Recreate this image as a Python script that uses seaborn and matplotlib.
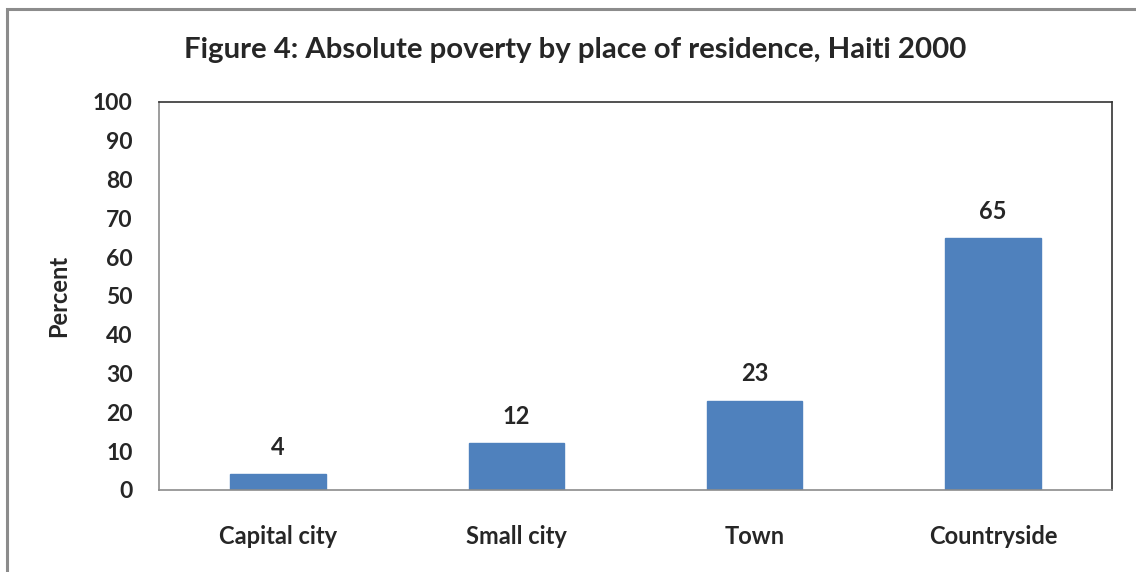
import matplotlib
matplotlib.use("Agg")
import matplotlib.pyplot as plt
import seaborn as sns
import pandas as pd
from matplotlib.patches import Rectangle

# Data
places = ["Capital city", "Small city", "Town", "Countryside"]
poverty_pct = [4, 12, 23, 65]
y_ticks = list(range(0, 101, 10))

sns.set_theme(style="white")
plt.rcParams["font.family"] = ["Lato", "DejaVu Sans"]

W, H, DPI = 1136, 572, 100
fig = plt.figure(figsize=(W / DPI, H / DPI), dpi=DPI)
fig.patch.set_facecolor("white")

# Outer frame of the chart area
fig.add_artist(Rectangle((7 / W, -0.05), 1.2, 1 - 9 / H + 0.05,
                         transform=fig.transFigure, fill=False,
                         edgecolor="#8c8c8c", linewidth=2.2))

left, right, top, bottom = 159, 1112, 102, 490
ax = fig.add_axes([left / W, 1 - bottom / H, (right - left) / W, (bottom - top) / H])

df = pd.DataFrame({"place": places, "pct": poverty_pct})
sns.barplot(data=df, x="place", y="pct", ax=ax, color="#4f81bd",
            width=0.4, saturation=1, edgecolor="#4f81bd")

ax.set_ylim(0, 100)
ax.set_yticks(y_ticks)
ax.set_xlim(-0.5, len(places) - 0.5)
ax.tick_params(axis="y", length=0, labelsize=16.5, pad=19)
ax.tick_params(axis="x", length=0, labelsize=17, pad=25)
for lbl in ax.get_xticklabels() + ax.get_yticklabels():
    lbl.set_fontweight("bold")

ax.set_xlabel("")
ax.set_ylabel("Percent", fontsize=17, fontweight="bold", labelpad=16)

for side in ["left", "bottom"]:
    ax.spines[side].set_color("#8c8c8c")
    ax.spines[side].set_linewidth(1.2)
for side in ["top", "right"]:
    ax.spines[side].set_color("#333333")
    ax.spines[side].set_linewidth(1.2)

for i, v in enumerate(poverty_pct):
    ax.annotate(f"{v}", (i, v), xytext=(0, 11), textcoords="offset points",
                ha="center", va="bottom", fontsize=17, fontweight="bold")

fig.text(575 / W, 1 - 50 / H, "Figure 4: Absolute poverty by place of residence, Haiti 2000",
         ha="center", va="center", fontsize=21.2, fontweight="bold")

fig.savefig("out.png", dpi=DPI, facecolor="white")
